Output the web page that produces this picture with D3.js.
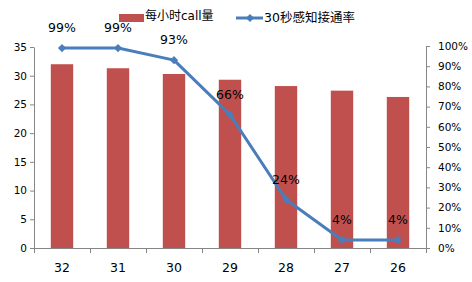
<!DOCTYPE html>
<html>
<head>
<meta charset="utf-8">
<script src="https://cdn.jsdelivr.net/npm/d3@7"></script>
<style>
  body { margin: 0; background: #fff; }
  svg text { font-family: "DejaVu Sans", "Noto Sans CJK SC", sans-serif; fill: #000; }
</style>
</head>
<body>
<div class="chart"></div>
<script>
var categories = ['32', '31', '30', '29', '28', '27', '26'];
var callVolume = [32.0, 31.3, 30.3, 29.3, 28.2, 27.4, 26.3];
var connectRate = [0.99, 0.99, 0.93, 0.66, 0.24, 0.04, 0.04];
var leftTicks = [0, 5, 10, 15, 20, 25, 30, 35];
var rightTicks = [0, 0.1, 0.2, 0.3, 0.4, 0.5, 0.6, 0.7, 0.8, 0.9, 1.0];
var seriesNames = ['每小时call量', '30秒感知接通率'];

const W = 472, H = 282;
const plot = { left: 34, right: 426, top: 47, bottom: 248 };
const barColor = '#C0504D', lineColor = '#4A7EBB', axisColor = '#868686';

var svg = d3.select('.chart')
  .append('svg')
    .attr('width', W)
    .attr('height', H);

var xScale = d3.scaleBand()
  .domain(categories)
  .range([plot.left, plot.right])
  .padding(0);
var xEdge = d3.scaleLinear()
  .domain([0, categories.length])
  .range([plot.left, plot.right]);
var yLeft = d3.scaleLinear()
  .domain([0, 35])
  .range([plot.bottom, plot.top]);
var yRight = d3.scaleLinear()
  .domain([0, 1])
  .range([plot.bottom, plot.top - 1]);

// bars
svg.append('g')
  .selectAll('rect')
  .data(categories)
  .join('rect')
    .attr('x', d => xScale(d) + xScale.bandwidth() * 0.3)
    .attr('width', xScale.bandwidth() * 0.4)
    .attr('y', (d, i) => yLeft(callVolume[i]))
    .attr('height', (d, i) => plot.bottom - yLeft(callVolume[i]))
    .attr('fill', barColor);

// axes
function styleAxis(g) {
  g.select('.domain').attr('stroke', axisColor);
  g.selectAll('.tick line').attr('stroke', axisColor);
}

svg.append('g')
  .attr('transform', `translate(${plot.left},0)`)
  .call(d3.axisLeft(yLeft).tickValues(leftTicks).tickSize(4).tickSizeOuter(0).tickPadding(3))
  .call(styleAxis)
  .call(g => g.selectAll('text').style('font-size', '10.5px'));

svg.append('g')
  .attr('transform', `translate(${plot.right},0)`)
  .call(d3.axisRight(yRight).tickValues(rightTicks).tickFormat(d3.format('.0%')).tickSize(4).tickSizeOuter(0).tickPadding(8))
  .call(styleAxis)
  .call(g => g.selectAll('text').style('font-size', '10.5px'));

svg.append('g')
  .attr('transform', `translate(0,${plot.bottom})`)
  .call(d3.axisBottom(xEdge).tickValues(d3.range(categories.length + 1)).tickFormat('').tickSize(5).tickSizeOuter(0))
  .call(styleAxis);

svg.append('g')
  .selectAll('text')
  .data(categories)
  .join('text')
    .attr('x', d => xScale(d) + xScale.bandwidth() / 2)
    .attr('y', 272)
    .attr('text-anchor', 'middle')
    .style('font-size', '12.5px')
    .text(d => d);

// line
var line = d3.line()
  .x((d, i) => xScale(categories[i]) + xScale.bandwidth() / 2)
  .y(d => yRight(d));

svg.append('path')
  .datum(connectRate)
  .attr('d', line)
  .attr('fill', 'none')
  .attr('stroke', lineColor)
  .attr('stroke-width', 3)
  .attr('stroke-linejoin', 'round');

var diamond = d3.symbol().type(d3.symbolSquare).size(34);
svg.append('g')
  .selectAll('path')
  .data(connectRate)
  .join('path')
    .attr('d', diamond)
    .attr('transform', (d, i) => `translate(${xScale(categories[i]) + xScale.bandwidth() / 2},${yRight(d)}) rotate(45)`)
    .attr('fill', lineColor);

// data labels
svg.append('g')
  .selectAll('text')
  .data(connectRate)
  .join('text')
    .attr('x', (d, i) => xScale(categories[i]) + xScale.bandwidth() / 2)
    .attr('y', d => yRight(d) - 16)
    .attr('text-anchor', 'middle')
    .style('font-size', '12.5px')
    .text(d => d3.format('.0%')(d));

// legend
var legend = svg.append('g');
legend.append('rect')
  .attr('x', 119).attr('y', 14)
  .attr('width', 25).attr('height', 8)
  .attr('fill', barColor);
legend.append('text')
  .attr('x', 145).attr('y', 20)
  .style('font-size', '12px')
  .text(seriesNames[0]);
legend.append('line')
  .attr('x1', 236).attr('x2', 263)
  .attr('y1', 18).attr('y2', 18)
  .attr('stroke', lineColor).attr('stroke-width', 3);
legend.append('path')
  .attr('d', diamond)
  .attr('transform', 'translate(250,18) rotate(45)')
  .attr('fill', lineColor);
legend.append('text')
  .attr('x', 264).attr('y', 22)
  .style('font-size', '12.5px')
  .text(seriesNames[1]);
</script>
</body>
</html>
